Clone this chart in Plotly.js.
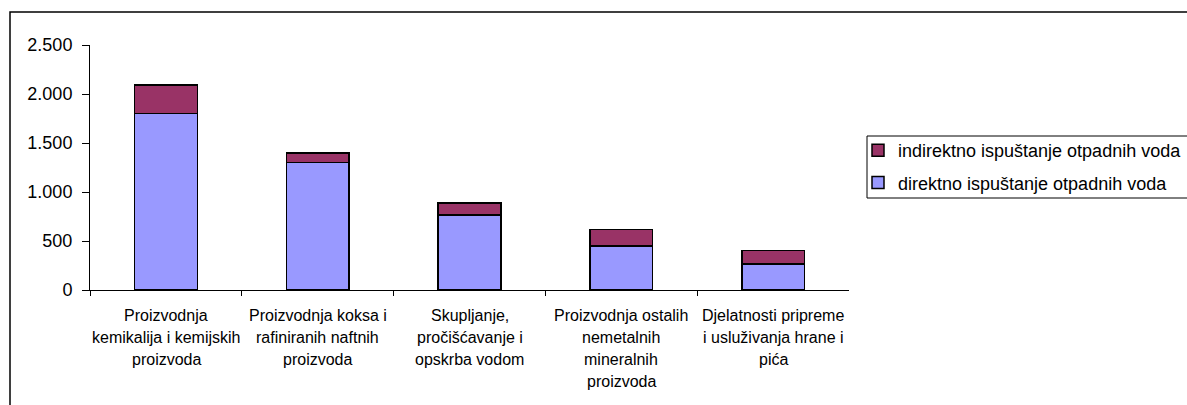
<!DOCTYPE html>
<html>
<head>
<meta charset="utf-8">
<script src="https://cdn.plot.ly/plotly-3.0.1.min.js"></script>
<style>html,body{margin:0;padding:0;background:#fff;}#chart{width:1187px;height:405px;}</style>
</head>
<body>
<div id="chart"></div>
<script>
var categories = [
  "Proizvodnja<br>kemikalija i kemijskih<br>proizvoda",
  "Proizvodnja koksa i<br>rafiniranih naftnih<br>proizvoda",
  "Skupljanje,<br>pročišćavanje i<br>opskrba vodom",
  "Proizvodnja ostalih<br>nemetalnih<br>mineralnih<br>proizvoda",
  "Djelatnosti pripreme<br>i usluživanja hrane i<br>pića"
];
var direktno = [1800, 1300, 765, 450, 265];
var indirektno = [290, 100, 125, 165, 140];
var seriesNames = ["direktno ispuštanje otpadnih voda", "indirektno ispuštanje otpadnih voda"];
var yTicks = [0, 500, 1000, 1500, 2000, 2500];

var W = 1187, H = 405;
var mL = 90, mR = 0, mT = 45, mB = 115;
var pw = W - mL - mR, ph = H - mT - mB;
function px(x){ return (x - mL) / pw; }
function py(y){ return 1 - (y - mT) / ph; }

var traces = [
  {type:'bar', x: categories, y: direktno, name: seriesNames[0], legendgroup:'d', legendrank: 2,
   marker:{color:'#9999FF', line:{color:'#000', width:1.5}}, hoverinfo:'y'},
  {type:'bar', x: categories, y: indirektno, name: seriesNames[1], legendgroup:'i', legendrank: 1,
   marker:{color:'#993366', line:{color:'#000', width:1.5}}, hoverinfo:'y'}
];

var annotations = [];
categories.forEach(function(c){
  c.split('<br>').forEach(function(line, i){
    annotations.push({xref:'x', yref:'paper', x:c, y:0, yanchor:'middle', xanchor:'center',
      yshift: -25 - 22*i, text: line, showarrow:false,
      font:{family:'Arial, Liberation Sans, sans-serif', size:16, color:'#000'}});
  });
});

var layout = {
  width: W, height: H,
  margin: {l: mL, r: mR, t: mT, b: mB, autoexpand: false},
  paper_bgcolor: '#fff', plot_bgcolor: '#fff',
  barmode: 'stack', bargap: 0.587,
  separators: ',.',
  font: {family: 'Arial, Liberation Sans, sans-serif', color: '#000'},
  xaxis: {domain: [0, px(849) ], type: 'category', showline: true, linecolor: '#000', linewidth: 1,
    ticks: 'outside', tickson: 'boundaries', ticklen: 5, tickcolor: '#000', showticklabels: false,
    showgrid: false, zeroline: false, fixedrange: true},
  yaxis: {range: [0, 2500], tickvals: yTicks, tickformat: ',d', showline: true, linecolor: '#000', linewidth: 1,
    ticks: 'outside', ticklen: 7, tickcolor: '#000', ticklabelstandoff: 6,
    tickfont: {size: 18, color: '#000'}, showgrid: false, zeroline: false, fixedrange: true},
  showlegend: true,
  legend: {x: px(858), y: py(132), xanchor: 'left', yanchor: 'top', bgcolor: 'rgba(0,0,0,0)', borderwidth: 0,
    traceorder: 'grouped', tracegroupgap: 6, font: {size: 18, color: '#000'}},
  annotations: annotations,
  shapes: [
    {type:'rect', xref:'paper', yref:'paper', x0: px(10), x1: 1.2, y0: -1, y1: py(12), line:{color:'#000', width:1.5}, layer:'below'},
    {type:'rect', xref:'paper', yref:'paper', x0: px(867), x1: 1.2, y0: py(198), y1: py(136), line:{color:'#000', width:1}, layer:'below'}
  ]
};

Plotly.newPlot('chart', traces, layout, {displayModeBar: false, staticPlot: true});
</script>
</body>
</html>
